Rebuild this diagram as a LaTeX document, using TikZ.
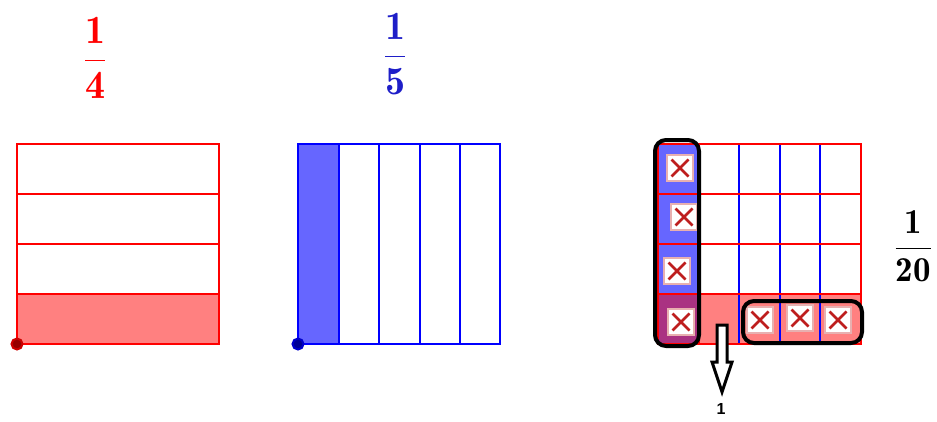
\documentclass[tikz,border=0pt]{standalone}
\usepackage{fix-cm}
\usepackage{amsmath}
\usepackage{fontspec}
\newfontfamily\labfont{Liberation Sans}
\definecolor{rline}{RGB}{255,0,0}
\definecolor{rfill}{RGB}{255,128,128}
\definecolor{bline}{RGB}{0,0,255}
\definecolor{bfill}{RGB}{102,102,255}
\definecolor{pfill}{RGB}{170,50,130}
\definecolor{bfrac}{RGB}{30,30,200}
\definecolor{xred}{RGB}{190,30,30}
\definecolor{dred}{RGB}{150,0,0}
\definecolor{dblue}{RGB}{0,0,150}
\tikzset{
  rl/.style={draw=rline,line width=1.8pt},
  bl/.style={draw=bline,line width=1.8pt},
  ring/.style={draw=black,line width=4pt,rounded corners=11pt},
  xbox/.style={draw=xred!35,line width=1.2pt,fill=white,minimum size=26pt,inner sep=0pt,
    path picture={\draw[xred,line width=2.6pt]
      ([shift={(4.5pt,4.5pt)}]path picture bounding box.south west) -- ([shift={(-4.5pt,-4.5pt)}]path picture bounding box.north east)
      ([shift={(4.5pt,-4.5pt)}]path picture bounding box.north west) -- ([shift={(-4.5pt,4.5pt)}]path picture bounding box.south east);}},
  dot/.style={circle,inner sep=0pt,minimum size=11pt,line width=2pt},
  frac/.style={inner sep=0pt}
}
\begin{document}
\begin{tikzpicture}[x=1pt,y=-1pt]
\useasboundingbox (0,0) rectangle (937,421);
% fractions
\node[frac,text=rline] (f4) at (95,58) {\fontsize{40}{48}\selectfont$\dfrac{\mathbf{1}}{\mathbf{4}}$};
\node[frac,text=bfrac] (f5) at (395,54) {\fontsize{40}{48}\selectfont$\dfrac{\mathbf{1}}{\mathbf{5}}$};
\node[frac,text=black] (f20) at (913,246) {\fontsize{35}{42}\selectfont$\dfrac{\mathbf{1}}{\mathbf{20}}$};
% square 1
\fill[rfill] (17,294) rectangle (219,344);
\foreach \y in {194,244,294} \draw[rl] (17,\y) -- (219,\y);
\draw[rl] (17,144) rectangle (219,344);
\node[dot,fill=dred,draw=rline!80!black] (p1) at (17,344) {};
% square 2
\fill[bfill] (298,144) rectangle (339,344);
\foreach \x in {339,379,420,460} \draw[bl] (\x,144) -- (\x,344);
\draw[bl] (298,144) rectangle (500,344);
\node[dot,fill=dblue,draw=bline!80!black] (p2) at (298,344) {};
% square 3
\fill[rfill] (658,294) rectangle (861,344);
\fill[bfill] (658,144) rectangle (699,294);
\fill[pfill] (658,294) rectangle (699,344);
\foreach \x in {739,780,820} \draw[bl] (\x,144) -- (\x,344);
\draw[rl] (699,144) -- (699,344);
\foreach \y in {194,244,294} \draw[rl] (658,\y) -- (861,\y);
\draw[rl] (658,144) rectangle (861,344);
% crossed boxes
\node[xbox] (c1) at (680,168) {};
\node[xbox] (c2) at (684,217) {};
\node[xbox] (c3) at (677,271) {};
\node[xbox] (c4) at (681,322) {};
\node[xbox] (c5) at (760,320) {};
\node[xbox] (c6) at (800,318) {};
\node[xbox] (c7) at (838,320) {};
% black rings
\draw[ring] (655,140) rectangle (699,346);
\draw[ring] (743,301) rectangle (862,343);
% hollow arrow
\draw[black,line width=3pt,fill=white,line join=miter]
  (717,325) -- (727,325) -- (727,362) -- (732,362) -- (722,392) -- (712,362) -- (717,362) -- cycle;
\coordinate (tip) at (722,392);
\node[inner sep=0pt] (one) at (721,409) {\labfont\bfseries\fontsize{16}{18}\selectfont 1};
\end{tikzpicture}
\end{document}
